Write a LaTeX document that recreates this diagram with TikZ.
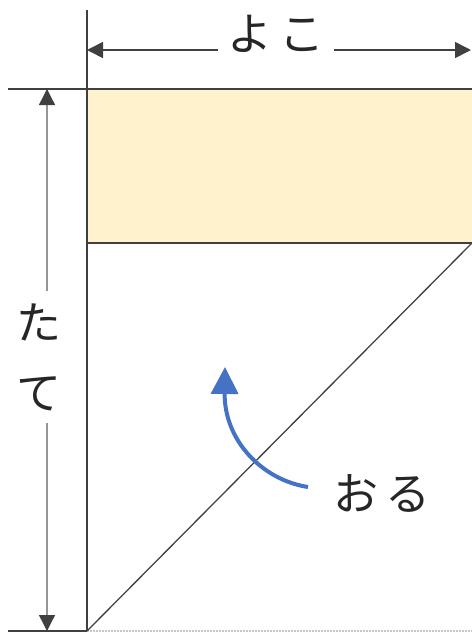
\documentclass[tikz,border=0pt]{standalone}
\usepackage{fontspec}
\newfontfamily\jpfont[LetterSpace=14]{Noto Sans CJK JP}
\usepackage{xcolor}
\usepackage{tikz}
\usetikzlibrary{arrows.meta}

\definecolor{paper}{HTML}{FFF2CC}
\definecolor{ink}{HTML}{404040}
\definecolor{foldblue}{HTML}{4472C4}

\begin{document}
\begin{tikzpicture}[
  x=1pt, y=-1pt,
  frame/.style={ink, line width=2.8pt},
  dimtip/.style={-{Triangle[length=16pt, width=16pt, color=ink]}},
  word/.style={font=\jpfont\fontsize{45}{70}\selectfont, text=black!85, align=center},
  foldarrow/.style={foldblue, line width=4pt, -{Triangle[length=27pt, width=27pt]}}
]
\useasboundingbox (0,0) rectangle (472,633);
% sheet corners
\coordinate (tl) at (87,89);
\coordinate (tr) at (472,89);
\coordinate (ml) at (87,243);
\coordinate (mr) at (472,243);
\coordinate (bl) at (87,631);
\coordinate (br) at (472,631);
\coordinate (vtop) at (87,10);
\coordinate (hleft) at (8,89);
\coordinate (bleft) at (8,631);
% dimension ends
\coordinate (yl) at (87,50);
\coordinate (yr) at (471,50);
\coordinate (tt) at (47,89);
\coordinate (tb) at (47,631);
% fold arrow ends
\coordinate (fs) at (308,487);
\coordinate (fe) at (225,367);

\fill[paper] (tl) rectangle (mr);
\draw[gray!45, densely dotted, line width=2pt] (bl) -- (br);
\draw[ink, line width=1.3pt] (bl) -- (mr);
\draw[frame] (vtop) -- (bl);
\draw[frame] (hleft) -- (tr);
\draw[frame] (ml) -- (mr);
\draw[frame] (bleft) -- (bl);

\node[word, inner xsep=10pt] (yoko) at (276,34) {よこ};
\draw[dimtip, ink, line width=1.6pt] (yoko.west |- yl) -- (yl);
\draw[dimtip, ink, line width=1.6pt] (yoko.east |- yr) -- (yr);

\node[word, inner ysep=12pt] (tate) at (39,357) {た\\て};
\draw[dimtip, ink!55, line width=1.3pt] (tate.north -| tt) -- (tt);
\draw[dimtip, ink!55, line width=1.3pt] (tate.south -| tb) -- (tb);

\node[word] (oru) at (382,493) {おる};
\draw[foldarrow] (fs) .. controls (262,480) and (224,440) .. (fe);
\end{tikzpicture}
\end{document}
